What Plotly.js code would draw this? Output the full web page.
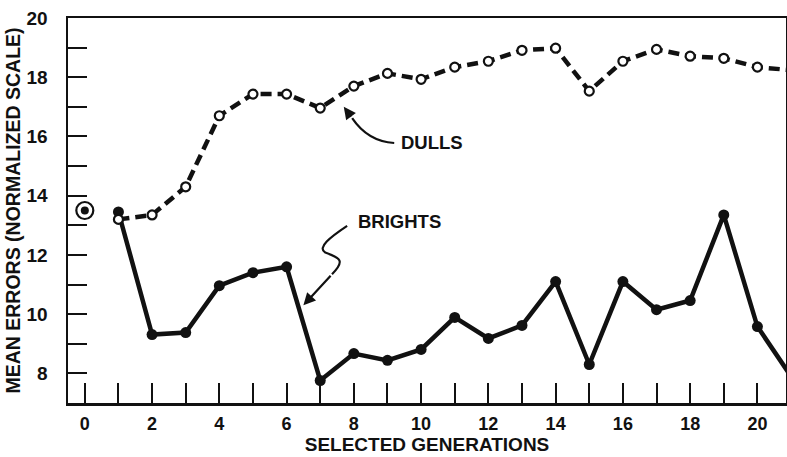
<!DOCTYPE html>
<html><head><meta charset="utf-8">
<script src="https://cdn.plot.ly/plotly-3.0.1.min.js"></script>
<style>html,body{margin:0;padding:0;background:#fff}#c{width:787px;height:457px}</style>
</head><body><div id="c"></div>
<script>
const generations = [1,2,3,4,5,6,7,8,9,10,11,12,13,14,15,16,17,18,19,20,21];
const dulls   = [13.2,13.35,14.3,16.7,17.43,17.43,16.96,17.7,18.13,17.93,18.34,18.54,18.91,18.98,17.53,18.54,18.94,18.71,18.64,18.34,18.24];
const brights = [13.45,9.31,9.38,10.96,11.4,11.6,7.76,8.67,8.44,8.81,9.89,9.18,9.62,11.1,8.3,11.1,10.15,10.46,13.35,9.58,7.9];
const foundationGen = [0];
const foundationVal = [13.5];
const xTickVals = [0,2,4,6,8,10,12,14,16,18,20];
const yTickVals = [8,10,12,14,16,18,20];

const ink = '#111';
const F = 'Liberation Sans, Arial, sans-serif';

const traces = [
 {x: generations, y: brights, mode:'lines+markers', line:{color:ink,width:4.5},
  marker:{symbol:'circle',size:11,color:ink}, showlegend:false},
 {x: generations, y: dulls, mode:'lines+markers', line:{color:ink,width:4.5,dash:'11px,6px'},
  marker:{symbol:'circle',size:9,color:'#fff',line:{color:ink,width:2.2}}, showlegend:false},
 {x: foundationGen, y: foundationVal, mode:'markers', marker:{symbol:'circle-open',size:17,color:ink,line:{width:2.2,color:ink}}, showlegend:false, cliponaxis:false},
 {x: foundationGen, y: foundationVal, mode:'markers', marker:{symbol:'circle',size:8,color:ink}, showlegend:false, cliponaxis:false}
];

const layout = {
 width:787, height:457,
 margin:{l:68,r:1,t:18,b:54},
 paper_bgcolor:'#fff', plot_bgcolor:'#fff',
 font:{family:F, color:ink, size:17},
 xaxis:{range:[-0.5,20.85], tickvals:xTickVals, ticks:'inside', ticklen:20, tickwidth:2, tickcolor:ink,
   minor:{dtick:1, tick0:0, ticks:'inside', ticklen:20, tickwidth:2, tickcolor:ink},
   showline:true, linecolor:ink, linewidth:2.5, mirror:true, showgrid:false, zeroline:false,
   tickfont:{family:F,size:18,weight:'bold'}, ticklabelstandoff:3,
   title:{text:'SELECTED GENERATIONS', font:{family:F,size:19,weight:'bold'}, standoff:3}},
 yaxis:{range:[7,20], tickvals:yTickVals, ticks:'inside', ticklen:19, tickwidth:2, tickcolor:ink,
   minor:{dtick:1, tick0:7, ticks:'inside', ticklen:19, tickwidth:2, tickcolor:ink},
   showline:true, linecolor:ink, linewidth:2.5, mirror:true, showgrid:false, zeroline:false,
   tickfont:{family:F,size:19,weight:'bold'}, ticklabelstandoff:14,
   title:{text:'MEAN ERRORS (NORMALIZED SCALE)', font:{family:F,size:19.5,weight:'bold'}, standoff:1}},
 shapes:[
  {type:'path', xref:'x', yref:'y', path:'M 9.2,15.78 C 8.6,15.82 8.2,16.2 7.95,16.62', line:{color:ink,width:2.2}},
  {type:'path', xref:'x', yref:'y', path:'M 7.8,12.98 C 7.3,12.6 6.9,12.25 7.15,12.08 C 7.6,11.9 7.75,11.8 7.35,11.35', line:{color:ink,width:2.2}}
 ],
 annotations:[
  {x:10.33, y:15.78, xref:'x', yref:'y', text:'DULLS', showarrow:false, font:{family:F,size:18.5,weight:'bold'}},
  {x:9.35, y:13.12, xref:'x', yref:'y', text:'BRIGHTS', showarrow:false, font:{family:F,size:18.5,weight:'bold'}},
  {x:7.7, y:17.0, ax:7.95, ay:16.62, xref:'x', yref:'y', axref:'x', ayref:'y', text:'', showarrow:true, arrowhead:2, arrowsize:1.1, arrowwidth:2.2, arrowcolor:ink},
  {x:6.5, y:10.3, ax:7.35, ay:11.35, xref:'x', yref:'y', axref:'x', ayref:'y', text:'', showarrow:true, arrowhead:2, arrowsize:1.1, arrowwidth:2.2, arrowcolor:ink}
 ]
};
Plotly.newPlot('c', traces, layout, {displayModeBar:false, staticPlot:true});
</script></body></html>
